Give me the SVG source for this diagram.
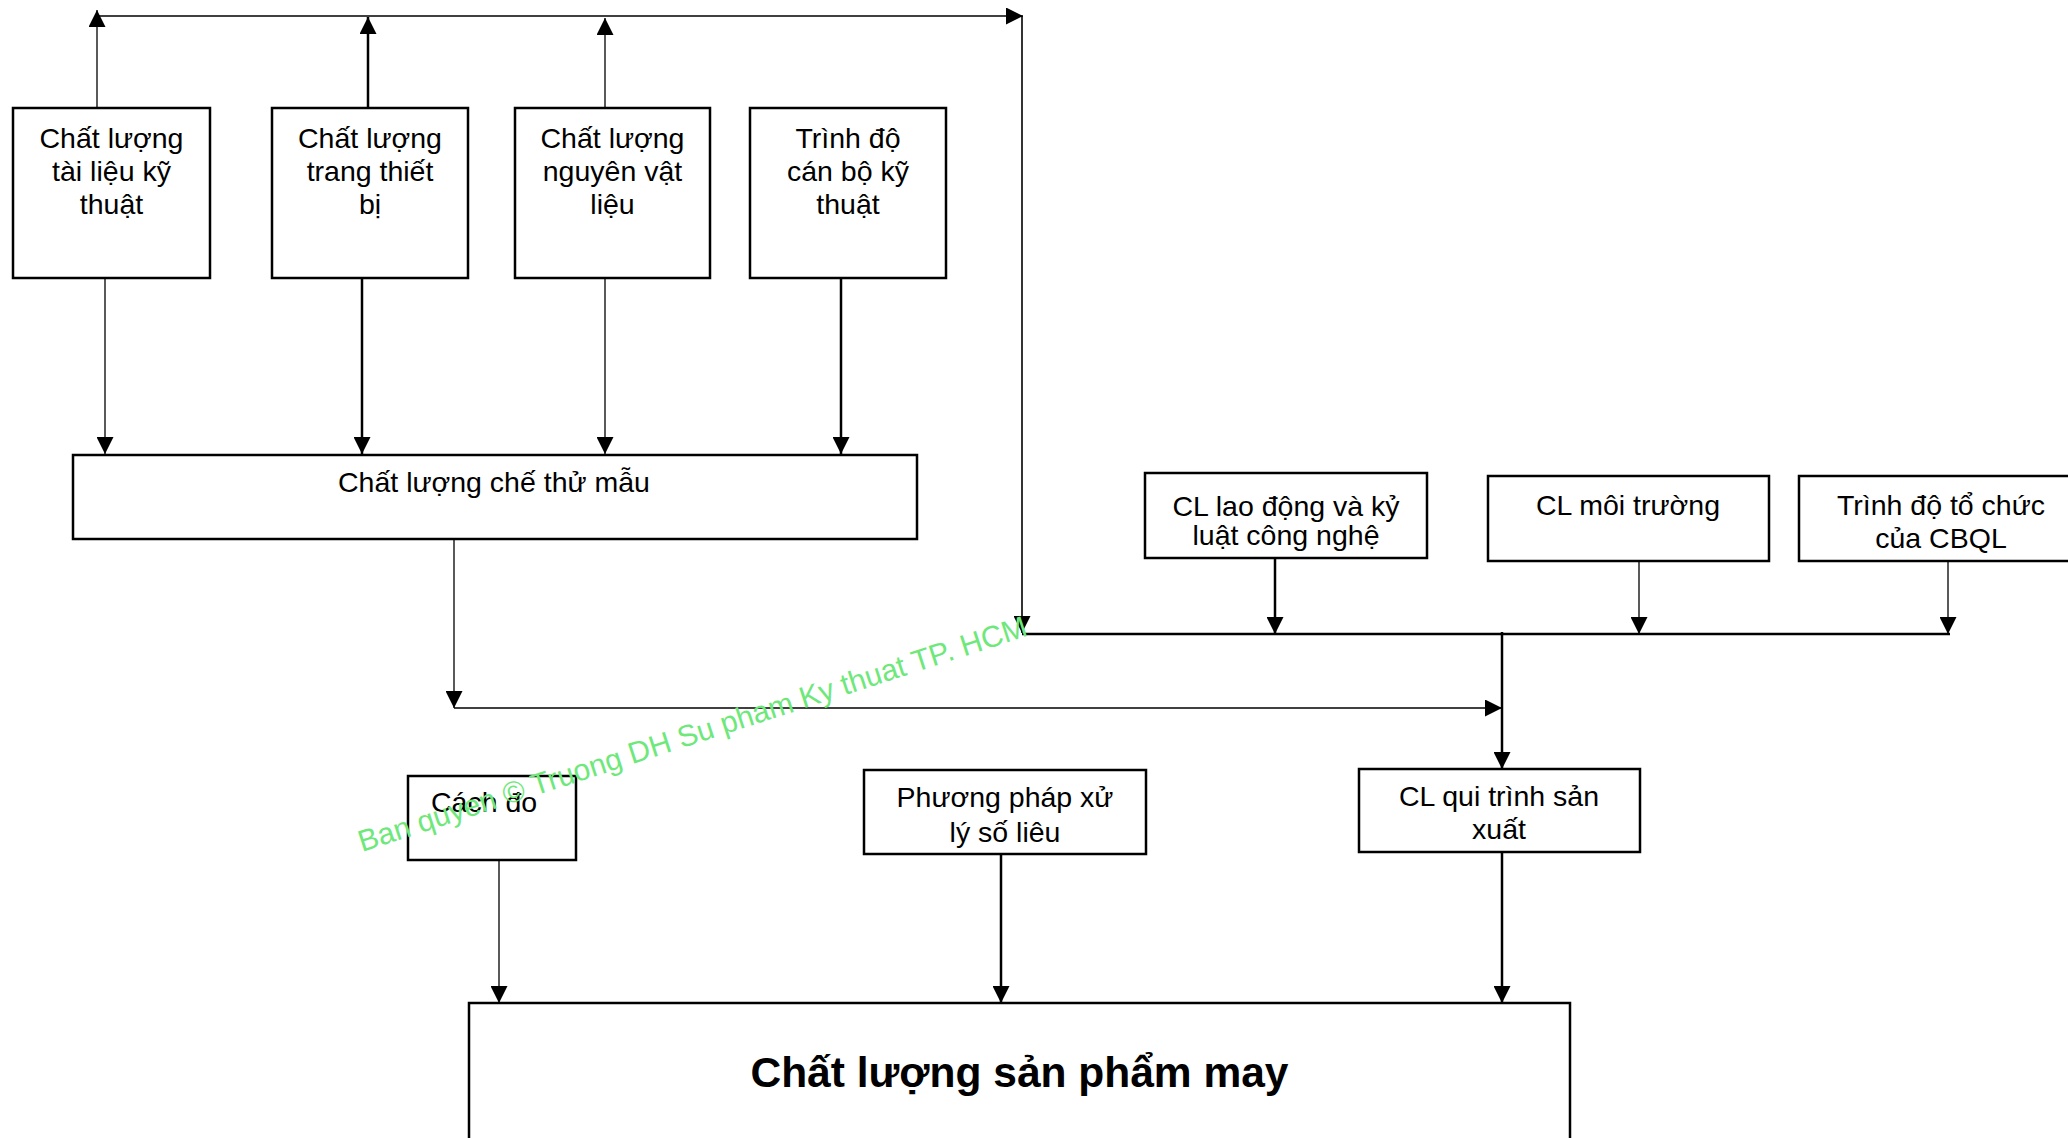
<svg xmlns="http://www.w3.org/2000/svg" width="2068" height="1138" viewBox="0 0 2068 1138">
  <defs>
    <marker id="arrow" markerUnits="userSpaceOnUse" markerWidth="17" markerHeight="17" viewBox="0 0 16 16" refX="16" refY="8" orient="auto">
      <path d="M0,0 L16,8 L0,16 z" fill="#000"/>
    </marker>
    <style>
      .box { fill: #fff; stroke: #000; stroke-width: 2.5; }
      .lbl { font-family: "Liberation Sans", Arial, sans-serif; font-size: 28.5px; fill: #000; text-anchor: middle; }
      .title { font-family: "Liberation Sans", Arial, sans-serif; font-size: 42.5px; font-weight: bold; fill: #000; text-anchor: middle; }
      .thin { stroke: #000; stroke-width: 1.3; fill: none; }
      .thick { stroke: #000; stroke-width: 2.5; fill: none; }
      .mark { font-family: "Liberation Sans", Arial, sans-serif; font-size: 30px; fill: #6EE87A; }
    </style>
  </defs>
  <rect width="2068" height="1138" fill="#fff"/>

  <!-- connectors -->
  <g id="connectors">
    <!-- upper feedback bus -->
    <line class="thin" x1="97" y1="16" x2="1023" y2="16" marker-end="url(#arrow)"/>
    <line class="thin" x1="97" y1="108" x2="97" y2="10" marker-end="url(#arrow)"/>
    <line class="thick" x1="368" y1="108" x2="368" y2="17" marker-end="url(#arrow)"/>
    <line class="thin" x1="605" y1="108" x2="605" y2="18" marker-end="url(#arrow)"/>
    <line class="thin" x1="1022" y1="16" x2="1022" y2="633" marker-end="url(#arrow)" style="stroke-width:1.6"/>

    <!-- inputs into sample making -->
    <line class="thin" x1="105" y1="273" x2="105" y2="454" marker-end="url(#arrow)"/>
    <line class="thick" x1="362" y1="277" x2="362" y2="454" marker-end="url(#arrow)"/>
    <line class="thin" x1="605" y1="277" x2="605" y2="454" marker-end="url(#arrow)"/>
    <line class="thick" x1="841" y1="277" x2="841" y2="454" marker-end="url(#arrow)"/>

    <!-- sample making to production process -->
    <line class="thin" x1="454" y1="539" x2="454" y2="708" marker-end="url(#arrow)"/>
    <line class="thin" x1="454" y1="708" x2="1502" y2="708" marker-end="url(#arrow)"/>

    <!-- right-hand factors bus -->
    <line class="thick" x1="1022" y1="634" x2="1950" y2="634"/>
    <line class="thick" x1="1275" y1="558" x2="1275" y2="634" marker-end="url(#arrow)"/>
    <line class="thin" x1="1639" y1="561" x2="1639" y2="634" marker-end="url(#arrow)"/>
    <line class="thin" x1="1948" y1="561" x2="1948" y2="634" marker-end="url(#arrow)"/>
    <line class="thick" x1="1502" y1="632" x2="1502" y2="769" marker-end="url(#arrow)"/>

    <!-- into product quality -->
    <line class="thin" x1="499" y1="857" x2="499" y2="1003" marker-end="url(#arrow)"/>
    <line class="thick" x1="1001" y1="854" x2="1001" y2="1003" marker-end="url(#arrow)"/>
    <line class="thick" x1="1502" y1="852" x2="1502" y2="1003" marker-end="url(#arrow)"/>
  </g>

  <g id="tai-lieu">
    <rect class="box" x="13" y="108" width="197" height="170"/>
    <text class="lbl"><tspan x="111.5" y="148">Chất lượng</tspan><tspan x="111.5" y="181">tài liệu kỹ</tspan><tspan x="111.5" y="214">thuật</tspan></text>
  </g>
  <g id="trang-thiet-bi">
    <rect class="box" x="272" y="108" width="196" height="170"/>
    <text class="lbl"><tspan x="370" y="148">Chất lượng</tspan><tspan x="370" y="181">trang thiết</tspan><tspan x="370" y="214">bị</tspan></text>
  </g>
  <g id="nguyen-vat-lieu">
    <rect class="box" x="515" y="108" width="195" height="170"/>
    <text class="lbl"><tspan x="612.5" y="148">Chất lượng</tspan><tspan x="612.5" y="181">nguyên vật</tspan><tspan x="612.5" y="214">liệu</tspan></text>
  </g>
  <g id="can-bo-ky-thuat">
    <rect class="box" x="750" y="108" width="196" height="170"/>
    <text class="lbl"><tspan x="848" y="148">Trình độ</tspan><tspan x="848" y="181">cán bộ kỹ</tspan><tspan x="848" y="214">thuật</tspan></text>
  </g>
  <g id="che-thu-mau">
    <rect class="box" x="73" y="455" width="844" height="84"/>
    <text class="lbl" x="494" y="492">Chất lượng chế thử mẫu</text>
  </g>
  <g id="lao-dong">
    <rect class="box" x="1145" y="473" width="282" height="85"/>
    <text class="lbl"><tspan x="1286" y="516">CL lao động và kỷ</tspan><tspan x="1286" y="545">luật công nghệ</tspan></text>
  </g>
  <g id="moi-truong">
    <rect class="box" x="1488" y="476" width="281" height="85"/>
    <text class="lbl" x="1628" y="515">CL môi trường</text>
  </g>
  <g id="cbql">
    <rect class="box" x="1799" y="476" width="275" height="85"/>
    <text class="lbl"><tspan x="1941" y="515">Trình độ tổ chức</tspan><tspan x="1941" y="548">của CBQL</tspan></text>
  </g>
  <g id="cach-do">
    <rect class="box" x="408" y="776" width="168" height="84"/>
    <text class="lbl" x="431" y="812" style="text-anchor:start">Cách đo</text>
  </g>
  <g id="xu-ly-so-lieu">
    <rect class="box" x="864" y="770" width="282" height="84"/>
    <text class="lbl"><tspan x="1005" y="807">Phương pháp xử</tspan><tspan x="1005" y="842">lý số liêu</tspan></text>
  </g>
  <g id="qui-trinh">
    <rect class="box" x="1359" y="769" width="281" height="83"/>
    <text class="lbl"><tspan x="1499" y="806">CL qui trình sản</tspan><tspan x="1499" y="839">xuất</tspan></text>
  </g>
  <g id="san-pham-may">
    <rect class="box" x="469" y="1003" width="1101" height="160"/>
    <text class="title" x="1019.5" y="1087">Chất lượng sản phẩm may</text>
  </g>

  <!-- copyright watermark -->
  <text class="mark" transform="translate(362 852) rotate(-18)">Ban quyen © Truong DH Su pham Ky thuat TP. HCM</text>
</svg>
